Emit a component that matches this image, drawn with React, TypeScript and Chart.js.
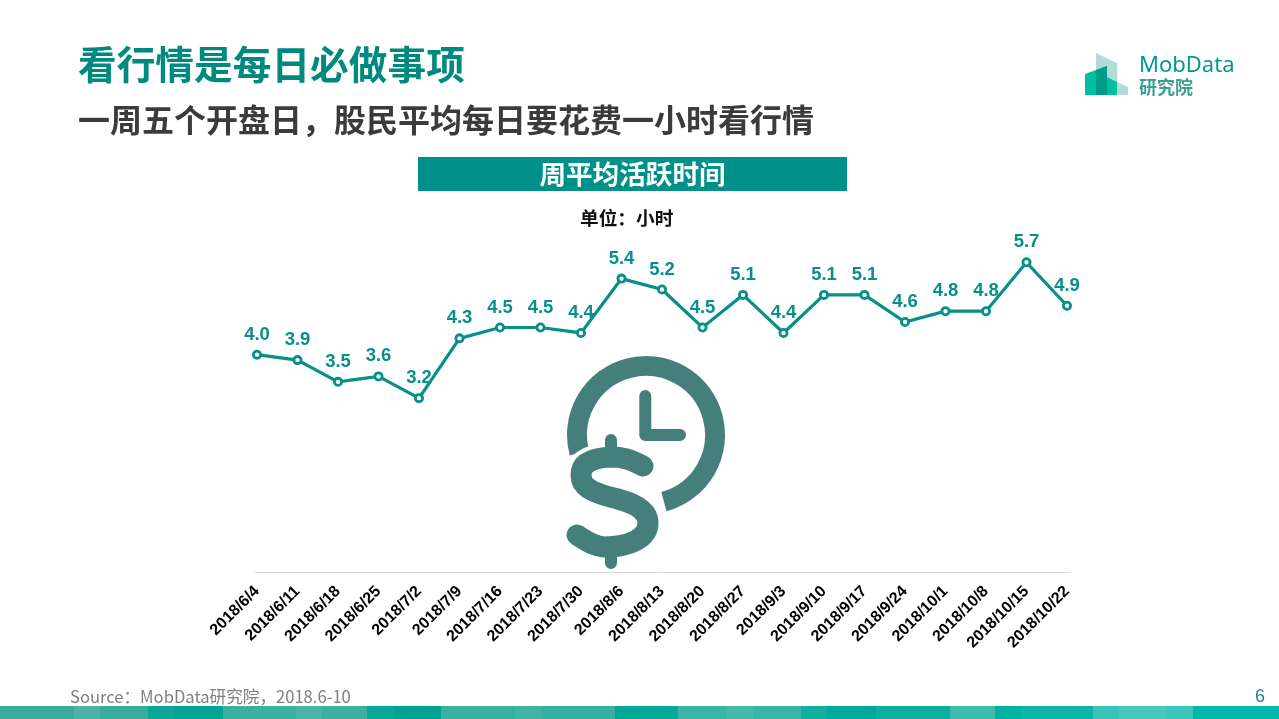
import React, { useEffect, useRef } from "react";
import { Chart, registerables } from "chart.js";

Chart.register(...registerables);

const categories = ["2018/6/4","2018/6/11","2018/6/18","2018/6/25","2018/7/2","2018/7/9","2018/7/16","2018/7/23","2018/7/30","2018/8/6","2018/8/13","2018/8/20","2018/8/27","2018/9/3","2018/9/10","2018/9/17","2018/9/24","2018/10/1","2018/10/8","2018/10/15","2018/10/22"];
const activeHours = [4.0,3.9,3.5,3.6,3.2,4.3,4.5,4.5,4.4,5.4,5.2,4.5,5.1,4.4,5.1,5.1,4.6,4.8,4.8,5.7,4.9];

const TEAL = "#078f88";
const CJK = '"Noto Sans CJK SC", "Liberation Sans", sans-serif';
const ARIAL = '"Liberation Sans", Arial, sans-serif';

const stripColors = ["#3cab9e","#4cb1a6","#3cab9e","#0fa696","#03a493","#3dae9f","#4bb3a7","#40ae9f","#0aa796","#00a391","#39b0a0","#44b3a5","#38b0a1","#00a795","#0aa898","#3db5a6","#48b8aa","#3bb5a7","#15ad9d","#00a99b","#0caea0","#3dbcae","#00b0a3","#0fb4a8","#3bc2b6","#47c6bb","#3bc5ba","#00b7ac"];
const stripWidths = [74,26,48,26,49,73,26,45,28,46,74,26,74,25,38,49,26,48,26,49,74,45,26,72,26,48,26,100];

const labelPlugin = {
  id: "pointValues",
  afterDatasetsDraw(chart: any) {
    const { ctx } = chart;
    const meta = chart.getDatasetMeta(0);
    ctx.save();
    ctx.font = `bold 18.5px ${ARIAL}`;
    ctx.fillStyle = TEAL;
    ctx.textAlign = "center";
    ctx.textBaseline = "middle";
    meta.data.forEach((pt: any, i: number) => {
      ctx.fillText(activeHours[i].toFixed(1), pt.x, pt.y - 20);
    });
    ctx.restore();
  },
};

const baselinePlugin = {
  id: "baseline",
  beforeDatasetsDraw(chart: any) {
    const { ctx, chartArea } = chart;
    ctx.save();
    ctx.strokeStyle = "#d9d9d9";
    ctx.lineWidth = 1;
    ctx.beginPath();
    ctx.moveTo(chartArea.left - 2, chartArea.bottom + 0.5);
    ctx.lineTo(chartArea.right + 3, chartArea.bottom + 0.5);
    ctx.stroke();
    ctx.restore();
  },
};

function abs(left: number, top: number, extra: React.CSSProperties = {}): React.CSSProperties {
  return { position: "absolute", left, top, whiteSpace: "nowrap", margin: 0, ...extra };
}

const S_PATH = "M643 466 C630 459 622 457 611 457 C592 458 581 463 581 475 C581 487 592 492 610 497 C632 502 648 509 648 523 C648 538 630 547 604 547 C592 546 585 540 577 535";

export default function App() {
  const ref = useRef<HTMLCanvasElement>(null);
  useEffect(() => {
    document.body.style.margin = "0";
    document.body.style.background = "#fff";
    const chart = new Chart(ref.current!, {
      type: "line",
      data: {
        labels: categories,
        datasets: [{
          data: activeHours,
          borderColor: TEAL,
          borderWidth: 3.2,
          tension: 0,
          pointRadius: 3.6,
          pointBorderWidth: 2.8,
          pointBorderColor: TEAL,
          pointBackgroundColor: "#ffffff",
        }],
      },
      options: {
        animation: false,
        responsive: false,
        layout: { padding: { left: 257, right: 212, top: 246, bottom: 47 } },
        plugins: { legend: { display: false }, tooltip: { enabled: false }, title: { display: false } },
        scales: {
          x: {
            offset: false,
            afterFit(s: any) { s.height = 100; },
            grid: { display: false, drawTicks: false },
            border: { display: false },
            ticks: { color: "#000", font: { family: ARIAL, weight: "bold", size: 16 }, minRotation: 45, maxRotation: 45, padding: 10, autoSkip: false },
          },
          y: {
            display: false,
            min: 0,
            max: 6,
          },
        },
      },
      plugins: [labelPlugin, baselinePlugin],
    } as any);
    return () => chart.destroy();
  }, []);

  return (
    <div style={{ position: "relative", width: 1279, height: 719, overflow: "hidden", background: "#fff" }}>
      <canvas ref={ref} width={1279} height={719} style={{ position: "absolute", left: 0, top: 0, width: 1279, height: 719 }} />
      <div style={abs(78, 34, { font: `bold 38.7px/56px ${CJK}`, color: "#00897f" })}>看行情是每日必做事项</div>
      <div style={abs(78, 94, { font: `bold 32px/48px ${CJK}`, color: "#3b3b3b" })}>一周五个开盘日，股民平均每日要花费一小时看行情</div>
      <div style={abs(418, 157, { width: 429, height: 34, background: "#00908a", color: "#fff", textAlign: "center", font: `bold 26.6px/32px ${CJK}` })}>周平均活跃时间</div>
      <div style={abs(580, 203, { font: `bold 18.7px/27px ${CJK}`, color: "#111" })}>单位：小时</div>
      <div style={abs(70, 685, { font: `16.6px/22px ${CJK}`, color: "#7f7f7f" })}>Source：MobData研究院，2018.6-10</div>
      <div style={abs(1255, 685, { font: `18px/22px ${ARIAL}`, color: "#1f7f96" })}>6</div>

      <svg width={1279} height={719} style={{ position: "absolute", left: 0, top: 0, pointerEvents: "none" }}>
        <g>
          <polygon points="1096,53 1117,63 1117,82 1128,87 1128,95 1096,95" fill="#b2dcd7" />
          <polygon points="1085,74 1107,66 1107,95 1085,95" fill="#00bfa0" />
          <polygon points="1096,70 1107,66 1107,95 1096,95" fill="#009b8a" />
          <polygon points="1107,77 1117,82 1117,95 1107,95" fill="#00bfa0" />
        </g>
        <g fill="none" stroke="#447f7c" strokeLinecap="round">
          <path d="M579.4 452.9 A69 69 0 1 1 663.9 501.6" strokeWidth={20} strokeLinecap="butt" />
          <path d={S_PATH} stroke="#fff" strokeWidth={29} strokeLinecap="butt" />
          <path d="M645.3 396 V435 H680" strokeWidth={12} strokeLinejoin="round" />
          <path d="M611 440 V456 M611 547 V563" strokeWidth={12} />
          <path d={S_PATH} strokeWidth={21} />
        </g>
      </svg>

      <div style={abs(1139, 47, { font: `22px/32px "Noto Sans", ${CJK}`, color: "#009a8a" })}>MobData</div>
      <div style={abs(1139, 73, { font: `bold 18px/26px ${CJK}`, color: "#3a9e92" })}>研究院</div>

      <div style={{ position: "absolute", left: 0, top: 706, width: 1279, height: 13, display: "flex" }}>
        {stripWidths.map((w, i) => (
          <div key={i} style={{ width: w, height: 13, background: stripColors[i], flex: "none" }} />
        ))}
      </div>
    </div>
  );
}
